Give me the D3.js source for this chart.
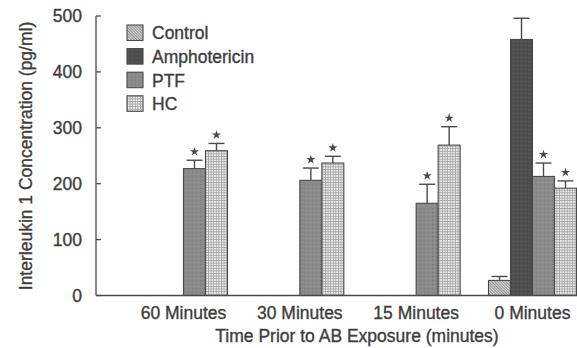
<!DOCTYPE html>
<html>
<head>
<meta charset="utf-8">
<script src="https://cdn.jsdelivr.net/npm/d3@7"></script>
<style>
  html, body { margin: 0; padding: 0; background: #fff; }
  svg { display: block; }
  text { font-family: "Liberation Sans", Arial, Helvetica, sans-serif; fill: #3d3d3d; stroke: #3d3d3d; stroke-width: 0.35px; }
</style>
</head>
<body>
<svg id="chart" width="577" height="348"></svg>
<script>
const categories = ["60 Minutes", "30 Minutes", "15 Minutes", "0 Minutes"];
const seriesNames = ["Control", "Amphotericin", "PTF", "HC"];
const controlValues = [0, 0, 0, 27];
const amphoValues = [0, 0, 0, 458];
const ptfValues = [227, 206, 165, 213];
const hcValues = [259, 237, 269, 192];
const controlErr = [0, 0, 0, 7];
const amphoErr = [0, 0, 0, 38];
const ptfErr = [15, 22, 34, 24];
const hcErr = [13, 12, 33, 13];
const significant = [false, false, true, true]; // per series: star marks
const yTicks = [0, 100, 200, 300, 400, 500];
const xTitle = "Time Prior to AB Exposure (minutes)";
const yTitle = "Interleukin 1 Concentration (pg/ml)";

const seriesValues = [controlValues, amphoValues, ptfValues, hcValues];
const seriesErrs = [controlErr, amphoErr, ptfErr, hcErr];

const svg = d3.select("#chart");
const defs = svg.append("defs");

// Control: fine diagonal hatching
const pc = defs.append("pattern").attr("id", "p-control").attr("patternUnits", "userSpaceOnUse")
  .attr("width", 2).attr("height", 2).attr("patternTransform", "rotate(-45)");
pc.append("rect").attr("width", 2).attr("height", 2).attr("fill", "#d6d6d6");
pc.append("rect").attr("width", 0.9).attr("height", 2).attr("fill", "#8c8c8c");

// Amphotericin: dark stipple
const pa = defs.append("pattern").attr("id", "p-ampho").attr("patternUnits", "userSpaceOnUse")
  .attr("width", 4).attr("height", 4);
pa.append("rect").attr("width", 4).attr("height", 4).attr("fill", "#4e4e4e");
pa.append("rect").attr("x", 1).attr("y", 1).attr("width", 1).attr("height", 1).attr("fill", "#5e5e5e");
pa.append("rect").attr("x", 3).attr("y", 3).attr("width", 1).attr("height", 1).attr("fill", "#424242");

// PTF: mid grey stipple
const pp = defs.append("pattern").attr("id", "p-ptf").attr("patternUnits", "userSpaceOnUse")
  .attr("width", 4).attr("height", 4);
pp.append("rect").attr("width", 4).attr("height", 4).attr("fill", "#8a8a8a");
pp.append("rect").attr("x", 0).attr("y", 0).attr("width", 1).attr("height", 1).attr("fill", "#787878");
pp.append("rect").attr("x", 2).attr("y", 2).attr("width", 1).attr("height", 1).attr("fill", "#9a9a9a");

// HC: fine grid
const ph = defs.append("pattern").attr("id", "p-hc").attr("patternUnits", "userSpaceOnUse")
  .attr("width", 2.6).attr("height", 2.6);
ph.append("rect").attr("width", 2.6).attr("height", 2.6).attr("fill", "#f2f2f2");
ph.append("rect").attr("width", 2.6).attr("height", 0.9).attr("fill", "#a4a4a4");
ph.append("rect").attr("width", 0.9).attr("height", 2.6).attr("fill", "#a4a4a4");

const fills = ["url(#p-control)", "url(#p-ampho)", "url(#p-ptf)", "url(#p-hc)"];

const axisLeft = 96, axisBottom = 295.5, axisTop = 16, axisRight = 577;

const y = d3.scaleLinear().domain([0, 500]).range([axisBottom, axisTop]);
const x0 = d3.scalePoint().domain(categories).range([183.5, 532.5]);
const x1 = d3.scaleBand().domain(seriesNames).range([-44, 44]).padding(0);

const ink = "#4a4a4a";

// Bars
const barData = [];
categories.forEach((c, ci) => {
  seriesNames.forEach((s, si) => {
    barData.push({ cat: c, ser: s, si, v: seriesValues[si][ci], e: seriesErrs[si][ci] });
  });
});
const shown = barData.filter(d => d.v > 0);

const g = svg.append("g");

const eb = g.selectAll("g.err").data(shown).join("g").attr("class", "err");
eb.append("line")
  .attr("x1", d => x0(d.cat) + x1(d.ser) + x1.bandwidth() / 2)
  .attr("x2", d => x0(d.cat) + x1(d.ser) + x1.bandwidth() / 2)
  .attr("y1", d => y(d.v)).attr("y2", d => y(d.v + d.e))
  .attr("stroke", ink).attr("stroke-width", 1.4);
eb.append("line")
  .attr("x1", d => x0(d.cat) + x1(d.ser) + x1.bandwidth() / 2 - 8)
  .attr("x2", d => x0(d.cat) + x1(d.ser) + x1.bandwidth() / 2 + 8)
  .attr("y1", d => y(d.v + d.e)).attr("y2", d => y(d.v + d.e))
  .attr("stroke", ink).attr("stroke-width", 1.4);

g.selectAll("rect.bar").data(shown).join("rect").attr("class", "bar")
  .attr("x", d => x0(d.cat) + x1(d.ser))
  .attr("width", x1.bandwidth())
  .attr("y", d => y(d.v))
  .attr("height", d => y(0) - y(d.v))
  .attr("fill", d => fills[d.si])
  .attr("stroke", ink).attr("stroke-width", 1.1);

const star = d3.symbol().type(d3.symbolStar).size(26);
g.selectAll("path.star").data(shown.filter(d => significant[d.si])).join("path").attr("class", "star")
  .attr("d", star)
  .attr("transform", d => `translate(${x0(d.cat) + x1(d.ser) + x1.bandwidth() / 2},${y(d.v + d.e) - 8.5})`)
  .attr("fill", "#4a4a4a");

// Axes
const yAxis = svg.append("g");
yAxis.append("line").attr("x1", axisLeft).attr("x2", axisLeft).attr("y1", axisTop).attr("y2", axisBottom)
  .attr("stroke", ink).attr("stroke-width", 1.3);
yAxis.selectAll("line.tick").data(yTicks).join("line").attr("class", "tick")
  .attr("x1", axisLeft).attr("x2", axisLeft + 5)
  .attr("y1", d => y(d)).attr("y2", d => y(d))
  .attr("stroke", ink).attr("stroke-width", 1.3);
yAxis.selectAll("text").data(yTicks).join("text")
  .attr("x", 82).attr("y", d => y(d)).attr("dy", "0.36em")
  .attr("text-anchor", "end").attr("font-size", 17.5).text(d => d);

svg.append("line").attr("x1", axisLeft).attr("x2", axisRight).attr("y1", axisBottom).attr("y2", axisBottom)
  .attr("stroke", ink).attr("stroke-width", 1.3);

svg.selectAll("text.xlab").data(categories).join("text").attr("class", "xlab")
  .attr("x", d => x0(d)).attr("y", 319).attr("text-anchor", "middle")
  .attr("font-size", 17.5).text(d => d);

svg.append("text").attr("x", 357).attr("y", 342).attr("text-anchor", "middle")
  .attr("font-size", 17.5).text(xTitle);

svg.append("text").attr("transform", "translate(31.5,156) rotate(-90)")
  .attr("text-anchor", "middle").attr("font-size", 17.5).text(yTitle);

// Legend
const legend = svg.append("g").attr("transform", "translate(127,25)");
const li = legend.selectAll("g").data(seriesNames).join("g")
  .attr("transform", (d, i) => `translate(0,${i * 23.6})`);
li.append("rect").attr("width", 16).attr("height", 15.5)
  .attr("fill", (d, i) => fills[i]).attr("stroke", ink).attr("stroke-width", 1.1);
li.append("text").attr("x", 25).attr("y", 8).attr("dy", "0.36em")
  .attr("font-size", 17.5).text(d => d);
</script>
</body>
</html>
